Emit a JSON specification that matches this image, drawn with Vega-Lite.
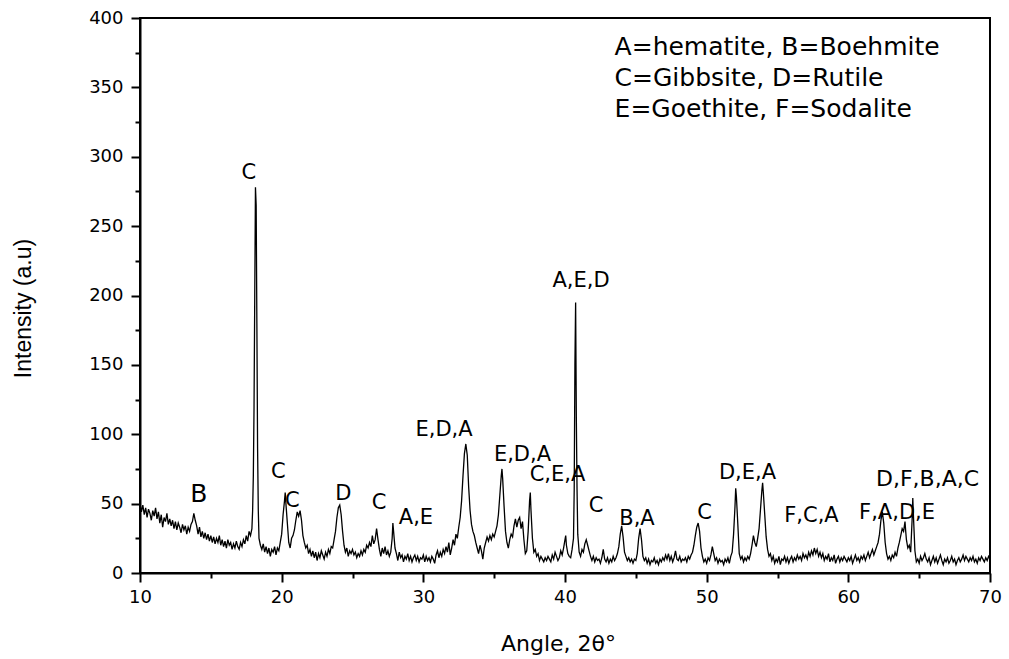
{
"$schema": "https://vega.github.io/schema/vega-lite/v6.json",
"width": 850, "height": 555,
"autosize": {"type": "none"},
"padding": {"left": 140, "top": 18, "right": 19, "bottom": 86},
"background": "white",
"config": {
 "view": {"stroke": "black", "strokeWidth": 2},
 "axis": {"domainColor": "black", "domainWidth": 2, "tickColor": "black", "tickWidth": 2, "labelColor": "black", "titleColor": "black", "grid": false, "labelFont": "DejaVu Sans", "labelFontSize": 18, "titleFontWeight": "normal", "labelOverlap": false, "labelFlush": false}
},
"datasets": {
 "xrd": [
{"a":10.0,"i":50},{"a":10.1,"i":44},{"a":10.2,"i":49},{"a":10.3,"i":42},{"a":10.4,"i":47},{"a":10.5,"i":40},{"a":10.6,"i":46},{"a":10.7,"i":43},{"a":10.8,"i":38},{"a":10.9,"i":45},
{"a":11.0,"i":41},{"a":11.1,"i":47},{"a":11.2,"i":39},{"a":11.3,"i":44},{"a":11.4,"i":36},{"a":11.5,"i":42},{"a":11.6,"i":33},{"a":11.7,"i":40},{"a":11.8,"i":37},{"a":11.9,"i":43},
{"a":12.0,"i":35},{"a":12.1,"i":39},{"a":12.2,"i":34},{"a":12.3,"i":38},{"a":12.4,"i":32},{"a":12.5,"i":37},{"a":12.6,"i":31},{"a":12.7,"i":36},{"a":12.8,"i":33},{"a":12.9,"i":29},
{"a":13.0,"i":35},{"a":13.1,"i":31},{"a":13.2,"i":34},{"a":13.3,"i":28},{"a":13.4,"i":33},{"a":13.5,"i":30},{"a":13.6,"i":35},{"a":13.7,"i":37},{"a":13.8,"i":43},{"a":13.9,"i":38},
{"a":14.0,"i":34},{"a":14.1,"i":28},{"a":14.2,"i":33},{"a":14.3,"i":26},{"a":14.4,"i":30},{"a":14.5,"i":25},{"a":14.6,"i":29},{"a":14.7,"i":24},{"a":14.8,"i":28},{"a":14.9,"i":23},
{"a":15.0,"i":27},{"a":15.1,"i":22},{"a":15.2,"i":26},{"a":15.3,"i":21},{"a":15.4,"i":25},{"a":15.5,"i":22},{"a":15.6,"i":27},{"a":15.7,"i":20},{"a":15.8,"i":24},{"a":15.9,"i":19},
{"a":16.0,"i":23},{"a":16.1,"i":18},{"a":16.2,"i":24},{"a":16.3,"i":20},{"a":16.4,"i":22},{"a":16.5,"i":17},{"a":16.6,"i":21},{"a":16.7,"i":18},{"a":16.8,"i":23},{"a":16.9,"i":19},
{"a":17.0,"i":17},{"a":17.1,"i":22},{"a":17.2,"i":19},{"a":17.3,"i":24},{"a":17.4,"i":21},{"a":17.5,"i":27},{"a":17.6,"i":23},{"a":17.7,"i":30},{"a":17.8,"i":27},{"a":17.9,"i":32},
{"a":17.95,"i":45},{"a":18.0,"i":70},{"a":18.05,"i":120},{"a":18.1,"i":200},{"a":18.15,"i":278},{"a":18.2,"i":265},{"a":18.25,"i":180},{"a":18.3,"i":90},{"a":18.35,"i":45},{"a":18.4,"i":25},
{"a":18.5,"i":20},{"a":18.6,"i":17},{"a":18.7,"i":21},{"a":18.8,"i":15},{"a":18.9,"i":19},{"a":19.0,"i":14},{"a":19.1,"i":18},{"a":19.2,"i":12},{"a":19.3,"i":17},{"a":19.4,"i":15},
{"a":19.5,"i":19},{"a":19.6,"i":13},{"a":19.7,"i":18},{"a":19.8,"i":16},{"a":19.9,"i":22},{"a":20.0,"i":28},{"a":20.1,"i":42},{"a":20.2,"i":52},{"a":20.25,"i":58},{"a":20.3,"i":50},
{"a":20.4,"i":36},{"a":20.5,"i":22},{"a":20.6,"i":18},{"a":20.7,"i":25},{"a":20.8,"i":27},{"a":20.9,"i":31},{"a":21.0,"i":38},{"a":21.1,"i":44},{"a":21.2,"i":41},{"a":21.3,"i":45},
{"a":21.4,"i":38},{"a":21.5,"i":27},{"a":21.6,"i":22},{"a":21.7,"i":18},{"a":21.8,"i":20},{"a":21.9,"i":14},{"a":22.0,"i":17},{"a":22.1,"i":12},{"a":22.2,"i":16},{"a":22.3,"i":11},
{"a":22.4,"i":15},{"a":22.5,"i":9},{"a":22.6,"i":14},{"a":22.7,"i":11},{"a":22.8,"i":16},{"a":22.9,"i":13},{"a":23.0,"i":10},{"a":23.1,"i":15},{"a":23.2,"i":12},{"a":23.3,"i":17},
{"a":23.4,"i":14},{"a":23.5,"i":19},{"a":23.6,"i":18},{"a":23.7,"i":24},{"a":23.8,"i":30},{"a":23.9,"i":40},{"a":24.0,"i":47},{"a":24.1,"i":49},{"a":24.2,"i":42},{"a":24.3,"i":30},
{"a":24.4,"i":20},{"a":24.5,"i":15},{"a":24.6,"i":18},{"a":24.7,"i":12},{"a":24.8,"i":16},{"a":24.9,"i":14},{"a":25.0,"i":17},{"a":25.1,"i":13},{"a":25.2,"i":15},{"a":25.3,"i":11},
{"a":25.4,"i":14},{"a":25.5,"i":12},{"a":25.6,"i":16},{"a":25.7,"i":13},{"a":25.8,"i":17},{"a":25.9,"i":15},{"a":26.0,"i":20},{"a":26.1,"i":18},{"a":26.2,"i":22},{"a":26.3,"i":19},
{"a":26.4,"i":27},{"a":26.5,"i":21},{"a":26.6,"i":24},{"a":26.7,"i":32},{"a":26.8,"i":24},{"a":26.9,"i":17},{"a":27.0,"i":12},{"a":27.1,"i":18},{"a":27.2,"i":14},{"a":27.3,"i":19},
{"a":27.4,"i":13},{"a":27.5,"i":16},{"a":27.6,"i":12},{"a":27.7,"i":15},{"a":27.8,"i":25},{"a":27.85,"i":36},{"a":27.9,"i":30},{"a":28.0,"i":18},{"a":28.1,"i":14},{"a":28.2,"i":9},
{"a":28.3,"i":15},{"a":28.4,"i":11},{"a":28.5,"i":13},{"a":28.6,"i":8},{"a":28.7,"i":12},{"a":28.8,"i":10},{"a":28.9,"i":14},{"a":29.0,"i":9},{"a":29.1,"i":12},{"a":29.2,"i":8},
{"a":29.3,"i":11},{"a":29.4,"i":13},{"a":29.5,"i":9},{"a":29.6,"i":12},{"a":29.7,"i":8},{"a":29.8,"i":11},{"a":29.9,"i":10},{"a":30.0,"i":13},{"a":30.1,"i":8},{"a":30.2,"i":12},
{"a":30.3,"i":9},{"a":30.4,"i":11},{"a":30.5,"i":8},{"a":30.6,"i":12},{"a":30.7,"i":10},{"a":30.8,"i":7},{"a":30.9,"i":13},{"a":31.0,"i":16},{"a":31.1,"i":11},{"a":31.2,"i":15},
{"a":31.3,"i":12},{"a":31.4,"i":17},{"a":31.5,"i":14},{"a":31.6,"i":19},{"a":31.7,"i":15},{"a":31.8,"i":22},{"a":31.9,"i":13},{"a":32.0,"i":18},{"a":32.1,"i":24},{"a":32.2,"i":20},
{"a":32.3,"i":28},{"a":32.4,"i":25},{"a":32.5,"i":33},{"a":32.6,"i":40},{"a":32.7,"i":52},{"a":32.8,"i":70},{"a":32.9,"i":86},{"a":33.0,"i":93},{"a":33.1,"i":85},{"a":33.2,"i":62},
{"a":33.3,"i":45},{"a":33.4,"i":35},{"a":33.5,"i":30},{"a":33.6,"i":27},{"a":33.7,"i":22},{"a":33.8,"i":18},{"a":33.9,"i":14},{"a":34.0,"i":20},{"a":34.1,"i":16},{"a":34.2,"i":10},
{"a":34.3,"i":18},{"a":34.4,"i":22},{"a":34.5,"i":26},{"a":34.6,"i":23},{"a":34.7,"i":27},{"a":34.8,"i":24},{"a":34.9,"i":28},{"a":35.0,"i":26},{"a":35.1,"i":30},{"a":35.2,"i":34},
{"a":35.3,"i":42},{"a":35.4,"i":56},{"a":35.5,"i":70},{"a":35.55,"i":75},{"a":35.6,"i":68},{"a":35.7,"i":48},{"a":35.8,"i":30},{"a":35.9,"i":22},{"a":36.0,"i":18},{"a":36.1,"i":24},
{"a":36.2,"i":28},{"a":36.3,"i":26},{"a":36.4,"i":34},{"a":36.5,"i":39},{"a":36.6,"i":33},{"a":36.7,"i":38},{"a":36.8,"i":40},{"a":36.9,"i":32},{"a":37.0,"i":37},{"a":37.1,"i":24},
{"a":37.2,"i":14},{"a":37.3,"i":16},{"a":37.4,"i":30},{"a":37.5,"i":52},{"a":37.55,"i":58},{"a":37.6,"i":45},{"a":37.7,"i":25},{"a":37.8,"i":15},{"a":37.9,"i":17},{"a":38.0,"i":12},
{"a":38.1,"i":14},{"a":38.2,"i":9},{"a":38.3,"i":12},{"a":38.4,"i":10},{"a":38.5,"i":8},{"a":38.6,"i":11},{"a":38.7,"i":9},{"a":38.8,"i":12},{"a":38.9,"i":10},{"a":39.0,"i":8},
{"a":39.1,"i":13},{"a":39.2,"i":10},{"a":39.3,"i":15},{"a":39.4,"i":12},{"a":39.5,"i":9},{"a":39.6,"i":11},{"a":39.7,"i":16},{"a":39.8,"i":13},{"a":39.9,"i":18},{"a":40.0,"i":24},
{"a":40.05,"i":27},{"a":40.1,"i":20},{"a":40.2,"i":14},{"a":40.3,"i":12},{"a":40.4,"i":11},{"a":40.5,"i":17},{"a":40.6,"i":25},{"a":40.65,"i":60},{"a":40.7,"i":150},{"a":40.75,"i":195},
{"a":40.8,"i":112},{"a":40.85,"i":60},{"a":40.9,"i":28},{"a":41.0,"i":15},{"a":41.1,"i":12},{"a":41.2,"i":17},{"a":41.3,"i":15},{"a":41.4,"i":21},{"a":41.5,"i":24},{"a":41.6,"i":20},
{"a":41.7,"i":16},{"a":41.8,"i":12},{"a":41.9,"i":9},{"a":42.0,"i":12},{"a":42.1,"i":8},{"a":42.2,"i":11},{"a":42.3,"i":9},{"a":42.4,"i":10},{"a":42.5,"i":7},{"a":42.6,"i":11},
{"a":42.7,"i":17},{"a":42.8,"i":10},{"a":42.9,"i":8},{"a":43.0,"i":11},{"a":43.1,"i":7},{"a":43.2,"i":10},{"a":43.3,"i":8},{"a":43.4,"i":12},{"a":43.5,"i":9},{"a":43.6,"i":11},
{"a":43.7,"i":14},{"a":43.8,"i":19},{"a":43.9,"i":28},{"a":44.0,"i":34},{"a":44.1,"i":26},{"a":44.2,"i":15},{"a":44.3,"i":12},{"a":44.4,"i":9},{"a":44.5,"i":11},{"a":44.6,"i":8},
{"a":44.7,"i":10},{"a":44.8,"i":7},{"a":44.9,"i":10},{"a":45.0,"i":9},{"a":45.1,"i":14},{"a":45.2,"i":25},{"a":45.3,"i":32},{"a":45.4,"i":24},{"a":45.5,"i":12},{"a":45.6,"i":9},
{"a":45.7,"i":11},{"a":45.8,"i":7},{"a":45.9,"i":10},{"a":46.0,"i":6},{"a":46.1,"i":9},{"a":46.2,"i":8},{"a":46.3,"i":11},{"a":46.4,"i":7},{"a":46.5,"i":9},{"a":46.6,"i":6},
{"a":46.7,"i":10},{"a":46.8,"i":8},{"a":46.9,"i":11},{"a":47.0,"i":9},{"a":47.1,"i":13},{"a":47.2,"i":10},{"a":47.3,"i":14},{"a":47.4,"i":9},{"a":47.5,"i":12},{"a":47.6,"i":8},
{"a":47.7,"i":11},{"a":47.8,"i":16},{"a":47.9,"i":10},{"a":48.0,"i":9},{"a":48.1,"i":12},{"a":48.2,"i":8},{"a":48.3,"i":10},{"a":48.4,"i":9},{"a":48.5,"i":11},{"a":48.6,"i":8},
{"a":48.7,"i":12},{"a":48.8,"i":10},{"a":48.9,"i":13},{"a":49.0,"i":15},{"a":49.1,"i":20},{"a":49.2,"i":27},{"a":49.3,"i":33},{"a":49.4,"i":36},{"a":49.5,"i":30},{"a":49.6,"i":18},
{"a":49.7,"i":12},{"a":49.8,"i":8},{"a":49.9,"i":10},{"a":50.0,"i":7},{"a":50.1,"i":11},{"a":50.2,"i":9},{"a":50.3,"i":13},{"a":50.4,"i":19},{"a":50.5,"i":14},{"a":50.6,"i":9},
{"a":50.7,"i":11},{"a":50.8,"i":7},{"a":50.9,"i":10},{"a":51.0,"i":8},{"a":51.1,"i":9},{"a":51.2,"i":6},{"a":51.3,"i":10},{"a":51.4,"i":8},{"a":51.5,"i":11},{"a":51.6,"i":7},
{"a":51.7,"i":12},{"a":51.8,"i":15},{"a":51.9,"i":28},{"a":52.0,"i":48},{"a":52.05,"i":61},{"a":52.1,"i":55},{"a":52.2,"i":35},{"a":52.3,"i":14},{"a":52.4,"i":10},{"a":52.5,"i":12},
{"a":52.6,"i":8},{"a":52.7,"i":11},{"a":52.8,"i":9},{"a":52.9,"i":12},{"a":53.0,"i":10},{"a":53.1,"i":14},{"a":53.2,"i":20},{"a":53.3,"i":27},{"a":53.4,"i":22},{"a":53.5,"i":19},
{"a":53.6,"i":25},{"a":53.7,"i":32},{"a":53.8,"i":46},{"a":53.9,"i":60},{"a":53.95,"i":65},{"a":54.0,"i":58},{"a":54.1,"i":42},{"a":54.2,"i":26},{"a":54.3,"i":17},{"a":54.4,"i":12},
{"a":54.5,"i":14},{"a":54.6,"i":9},{"a":54.7,"i":12},{"a":54.8,"i":7},{"a":54.9,"i":10},{"a":55.0,"i":8},{"a":55.1,"i":12},{"a":55.2,"i":6},{"a":55.3,"i":10},{"a":55.4,"i":9},
{"a":55.5,"i":12},{"a":55.6,"i":8},{"a":55.7,"i":11},{"a":55.8,"i":7},{"a":55.9,"i":10},{"a":56.0,"i":12},{"a":56.1,"i":8},{"a":56.2,"i":11},{"a":56.3,"i":9},{"a":56.4,"i":13},
{"a":56.5,"i":10},{"a":56.6,"i":12},{"a":56.7,"i":9},{"a":56.8,"i":14},{"a":56.9,"i":11},{"a":57.0,"i":13},{"a":57.1,"i":10},{"a":57.2,"i":15},{"a":57.3,"i":12},{"a":57.4,"i":16},
{"a":57.5,"i":13},{"a":57.6,"i":18},{"a":57.7,"i":14},{"a":57.8,"i":17},{"a":57.9,"i":12},{"a":58.0,"i":15},{"a":58.1,"i":11},{"a":58.2,"i":14},{"a":58.3,"i":9},{"a":58.4,"i":12},
{"a":58.5,"i":10},{"a":58.6,"i":14},{"a":58.7,"i":8},{"a":58.8,"i":11},{"a":58.9,"i":9},{"a":59.0,"i":13},{"a":59.1,"i":7},{"a":59.2,"i":10},{"a":59.3,"i":12},{"a":59.4,"i":8},
{"a":59.5,"i":11},{"a":59.6,"i":9},{"a":59.7,"i":12},{"a":59.8,"i":10},{"a":59.9,"i":8},{"a":60.0,"i":11},{"a":60.1,"i":9},{"a":60.2,"i":12},{"a":60.3,"i":7},{"a":60.4,"i":10},
{"a":60.5,"i":13},{"a":60.6,"i":9},{"a":60.7,"i":11},{"a":60.8,"i":8},{"a":60.9,"i":12},{"a":61.0,"i":10},{"a":61.1,"i":13},{"a":61.2,"i":9},{"a":61.3,"i":12},{"a":61.4,"i":15},
{"a":61.5,"i":11},{"a":61.6,"i":14},{"a":61.7,"i":17},{"a":61.8,"i":13},{"a":61.9,"i":16},{"a":62.0,"i":19},{"a":62.1,"i":22},{"a":62.2,"i":28},{"a":62.3,"i":38},{"a":62.4,"i":44},
{"a":62.5,"i":36},{"a":62.6,"i":22},{"a":62.7,"i":14},{"a":62.8,"i":10},{"a":62.9,"i":12},{"a":63.0,"i":9},{"a":63.1,"i":13},{"a":63.2,"i":11},{"a":63.3,"i":15},{"a":63.4,"i":12},
{"a":63.5,"i":18},{"a":63.6,"i":22},{"a":63.7,"i":27},{"a":63.8,"i":32},{"a":63.9,"i":30},{"a":64.0,"i":37},{"a":64.05,"i":30},{"a":64.1,"i":24},{"a":64.2,"i":18},{"a":64.3,"i":20},
{"a":64.4,"i":15},{"a":64.5,"i":38},{"a":64.55,"i":54},{"a":64.6,"i":40},{"a":64.7,"i":16},{"a":64.8,"i":8},{"a":64.9,"i":10},{"a":65.0,"i":7},{"a":65.1,"i":12},{"a":65.2,"i":9},
{"a":65.3,"i":11},{"a":65.4,"i":14},{"a":65.5,"i":10},{"a":65.6,"i":8},{"a":65.7,"i":11},{"a":65.8,"i":6},{"a":65.9,"i":9},{"a":66.0,"i":12},{"a":66.1,"i":8},{"a":66.2,"i":11},
{"a":66.3,"i":7},{"a":66.4,"i":10},{"a":66.5,"i":13},{"a":66.6,"i":9},{"a":66.7,"i":6},{"a":66.8,"i":10},{"a":66.9,"i":8},{"a":67.0,"i":11},{"a":67.1,"i":7},{"a":67.2,"i":9},
{"a":67.3,"i":12},{"a":67.4,"i":8},{"a":67.5,"i":10},{"a":67.6,"i":6},{"a":67.7,"i":9},{"a":67.8,"i":11},{"a":67.9,"i":8},{"a":68.0,"i":10},{"a":68.1,"i":13},{"a":68.2,"i":9},
{"a":68.3,"i":12},{"a":68.4,"i":10},{"a":68.5,"i":8},{"a":68.6,"i":11},{"a":68.7,"i":9},{"a":68.8,"i":12},{"a":68.9,"i":8},{"a":69.0,"i":10},{"a":69.1,"i":7},{"a":69.2,"i":11},
{"a":69.3,"i":9},{"a":69.4,"i":12},{"a":69.5,"i":10},{"a":69.6,"i":8},{"a":69.7,"i":11},{"a":69.8,"i":9},{"a":69.9,"i":12},{"a":70.0,"i":10}
 ],
 "labels": [
  {"a":17.69,"i":288,"t":"C"},
  {"a":19.77,"i":73,"t":"C"},
  {"a":20.76,"i":52,"t":"C"},
  {"a":24.36,"i":57,"t":"D"},
  {"a":26.87,"i":50.5,"t":"C"},
  {"a":29.48,"i":39.3,"t":"A,E"},
  {"a":31.46,"i":103.4,"t":"E,D,A"},
  {"a":37.0,"i":84.7,"t":"E,D,A"},
  {"a":39.47,"i":70.3,"t":"C,E,A"},
  {"a":41.13,"i":210.5,"t":"A,E,D"},
  {"a":42.19,"i":48.6,"t":"C"},
  {"a":45.08,"i":38.6,"t":"B,A"},
  {"a":49.85,"i":42.9,"t":"C"},
  {"a":52.88,"i":72.1,"t":"D,E,A"},
  {"a":57.4,"i":41.4,"t":"F,C,A"},
  {"a":63.44,"i":43.6,"t":"F,A,D,E"}
 ],
 "bigLabels": [{"a":14.16,"i":57,"t":"B"}],
 "leftLabels": [{"a":61.95,"i":68.1,"t":"D,F,B,A,C"}],
 "key": [
  {"a":43.5,"i":379,"t":"A=hematite, B=Boehmite"},
  {"a":43.5,"i":356.5,"t":"C=Gibbsite, D=Rutile"},
  {"a":43.5,"i":334.4,"t":"E=Goethite, F=Sodalite"}
 ]
},
"encoding": {
 "x": {"field": "a", "type": "quantitative",
  "scale": {"domain": [10, 70], "nice": false, "zero": false},
  "axis": {"values": [10,15,20,25,30,35,40,45,50,55,60,65,70],
   "labelExpr": "datum.value % 10 === 0 ? datum.label : ''",
   "tickSize": {"condition": {"test": "datum.value % 10 === 0", "value": 9}, "value": 5},
   "labelPadding": 6,
   "title": "Angle, 2θ°", "titleFont": "DejaVu Sans", "titleFontSize": 22,
   "titleX": 418, "titleY": 77, "titleBaseline": "alphabetic", "titleAlign": "center"}},
 "y": {"field": "i", "type": "quantitative",
  "scale": {"domain": [0, 400], "nice": false, "zero": true},
  "axis": {"values": [0,25,50,75,100,125,150,175,200,225,250,275,300,325,350,375,400],
   "labelExpr": "datum.value % 50 === 0 ? datum.label : ''",
   "tickSize": {"condition": {"test": "datum.value % 50 === 0", "value": 9}, "value": 5},
   "labelPadding": 8,
   "title": "Intensity (a.u)", "titleFont": "Liberation Sans", "titleFontSize": 23,
   "titleX": -117, "titleY": 290, "titleAngle": -90, "titleBaseline": "middle", "titleAlign": "center"}}
},
"layer": [
 {"data": {"name": "xrd"}, "mark": {"type": "line", "color": "black", "strokeWidth": 1.3, "clip": true}},
 {"data": {"name": "labels"}, "mark": {"type": "text", "font": "DejaVu Sans", "fontSize": 21, "align": "center", "baseline": "middle", "color": "black", "clip": true}, "encoding": {"text": {"field": "t"}}},
 {"data": {"name": "bigLabels"}, "mark": {"type": "text", "font": "DejaVu Sans", "fontSize": 25, "align": "center", "baseline": "middle", "color": "black", "clip": true}, "encoding": {"text": {"field": "t"}}},
 {"data": {"name": "leftLabels"}, "mark": {"type": "text", "font": "DejaVu Sans", "fontSize": 22, "align": "left", "baseline": "middle", "color": "black", "clip": true}, "encoding": {"text": {"field": "t"}}},
 {"data": {"name": "key"}, "mark": {"type": "text", "font": "DejaVu Sans", "fontSize": 25, "align": "left", "baseline": "middle", "color": "black", "clip": true}, "encoding": {"text": {"field": "t"}}}
]
}
